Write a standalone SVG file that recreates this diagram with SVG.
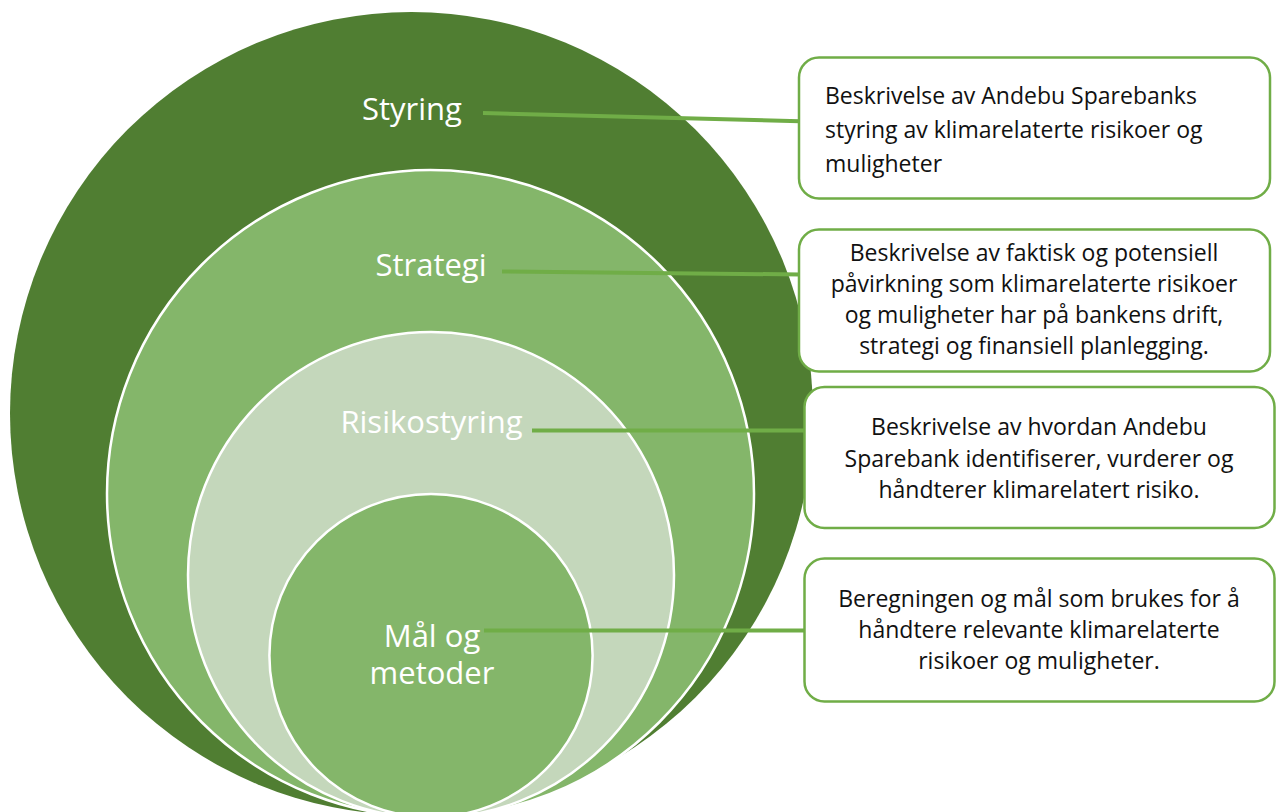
<svg xmlns="http://www.w3.org/2000/svg" width="1279" height="812" viewBox="0 0 1279 812">
<style>
.ring{stroke:#FFFFFF;stroke-width:2.5}
.lbl{font-family:"Open Sans","Liberation Sans",sans-serif;font-size:31px;fill:#FFFFFF;text-anchor:middle}
.box{fill:#FFFFFF;stroke:#70AD47;stroke-width:2.5}
.txt{font-family:"Open Sans","Liberation Sans",sans-serif;font-size:23px;fill:#111111}
.c{text-anchor:middle}
.conn{stroke:#70AD47;stroke-width:4;fill:none}
</style>
<rect width="1279" height="812" fill="#FFFFFF"/>
<g id="styring">
<circle cx="411.5" cy="413.5" r="401.5" fill="#507E32"/>
<text class="lbl" x="412" y="120">Styring</text>
</g>
<g id="strategi">
<circle class="ring" cx="430.5" cy="493.5" r="323.5" fill="#84B66A"/>
<text class="lbl" x="431" y="276">Strategi</text>
</g>
<g id="risikostyring">
<circle class="ring" cx="431" cy="575" r="243" fill="#C4D7BB"/>
<text class="lbl" x="431.5" y="432.5">Risikostyring</text>
</g>
<g id="maal">
<circle class="ring" cx="431" cy="655.6" r="161.6" fill="#84B66A"/>
<text class="lbl"><tspan x="432" y="646.5">Mål og</tspan><tspan x="432" y="683.5">metoder</tspan></text>
</g>
<g id="connectors">
<line class="conn" x1="483" y1="113" x2="800" y2="121.3"/>
<line class="conn" x1="502" y1="271.5" x2="800" y2="274.5"/>
<line class="conn" x1="532" y1="430.5" x2="805" y2="430.5"/>
<line class="conn" x1="484" y1="630.5" x2="805" y2="630.5"/>
</g>
<g id="box1">
<rect class="box" x="799" y="57.5" width="471" height="141" rx="20"/>
<text class="txt" x="825" y="103.5">Beskrivelse av Andebu Sparebanks</text>
<text class="txt" x="825" y="137.5">styring av klimarelaterte risikoer og</text>
<text class="txt" x="825" y="171.5">muligheter</text>
</g>
<g id="box2">
<rect class="box" x="799" y="229.5" width="471" height="142" rx="20"/>
<text class="txt c" x="1034" y="260.5">Beskrivelse av faktisk og potensiell</text>
<text class="txt c" x="1034" y="291.5">påvirkning som klimarelaterte risikoer</text>
<text class="txt c" x="1034" y="322.5">og muligheter har på bankens drift,</text>
<text class="txt c" x="1034" y="354">strategi og finansiell planlegging.</text>
</g>
<g id="box3">
<rect class="box" x="804.5" y="387" width="470" height="141" rx="20"/>
<text class="txt c" x="1039" y="435">Beskrivelse av hvordan Andebu</text>
<text class="txt c" x="1039" y="467">Sparebank identifiserer, vurderer og</text>
<text class="txt c" x="1039" y="497.5">håndterer klimarelatert risiko.</text>
</g>
<g id="box4">
<rect class="box" x="804.5" y="558.5" width="470" height="143" rx="20"/>
<text class="txt c" x="1039" y="606.5">Beregningen og mål som brukes for å</text>
<text class="txt c" x="1039" y="638">håndtere relevante klimarelaterte</text>
<text class="txt c" x="1039" y="668.5">risikoer og muligheter.</text>
</g>
</svg>
